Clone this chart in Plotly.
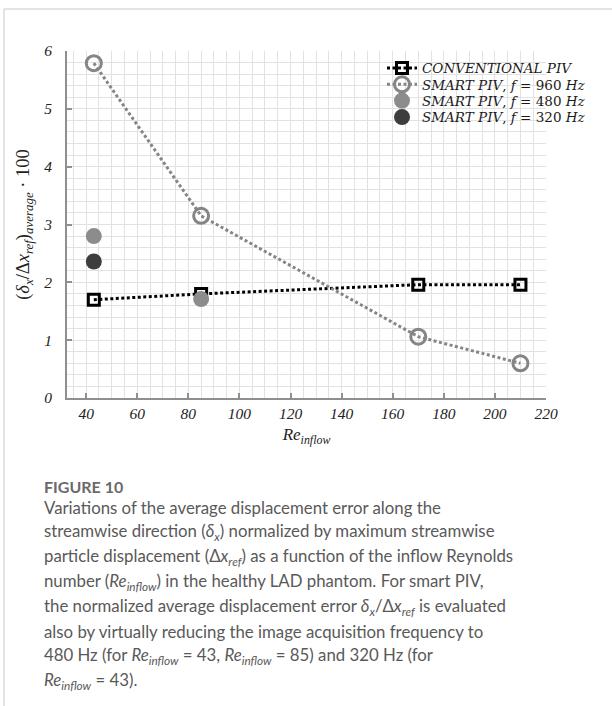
import plotly.graph_objects as go

# Inflow Reynolds numbers and normalized average displacement error (x100)
re_inflow = [43, 85, 170, 210]
err_conventional = [1.70, 1.80, 1.96, 1.96]
err_smart_960 = [5.79, 3.15, 1.06, 0.60]
re_480 = [43, 85]
err_smart_480 = [2.80, 1.71]
re_320 = [43]
err_smart_320 = [2.36]

x_ticks = [40, 60, 80, 100, 120, 140, 160, 180, 200, 220]
y_ticks = [0, 1, 2, 3, 4, 5, 6]

caption_title = "FIGURE 10"
caption_lines = [
    "Variations of the average displacement error along the",
    "streamwise direction (<i>δ<sub>x</sub></i>) normalized by maximum streamwise",
    "particle displacement (Δ<i>x<sub>ref</sub></i>) as a function of the inflow Reynolds",
    "number (<i>Re<sub>inflow</sub></i>) in the healthy LAD phantom. For smart PIV,",
    "the normalized average displacement error <i>δ<sub>x</sub></i>/Δ<i>x<sub>ref</sub></i> is evaluated",
    "also by virtually reducing the image acquisition frequency to",
    "480 Hz (for <i>Re<sub>inflow</sub></i> = 43, <i>Re<sub>inflow</sub></i> = 85) and 320 Hz (for",
    "<i>Re<sub>inflow</sub></i> = 43).",
]

W, H = 612, 706
L, R, T, B = 67, 66, 51, 308
PW, PH = W - L - R, H - T - B


def px(x):
    return (x - L) / PW


def py(y):
    return (H - B - y) / PH


SERIF = "Liberation Serif"
LEG_FONT = dict(family="DejaVu Serif", size=13.5, color="#1a1a1a")
DOTS = "3px,2.5px"

fig = go.Figure()
fig.add_trace(go.Scatter(
    x=re_inflow, y=err_conventional, mode="lines+markers",
    name="<i>CONVENTIONAL PIV</i>", legend="legend",
    line=dict(color="black", width=3, dash=DOTS),
    marker=dict(symbol="square-open", size=11, color="black", line=dict(width=3)),
))
fig.add_trace(go.Scatter(
    x=re_inflow, y=err_smart_960, mode="lines+markers",
    name="<i>SMART PIV</i>, <i>f</i> = 960 <i>Hz</i>", legend="legend2",
    line=dict(color="#858585", width=3, dash=DOTS),
    marker=dict(symbol="circle-open", size=15, color="#858585", line=dict(width=3)),
))
fig.add_trace(go.Scatter(
    x=re_480, y=err_smart_480, mode="markers",
    name="<i>SMART PIV</i>, <i>f</i> = 480 <i>Hz</i>", legend="legend3",
    marker=dict(symbol="circle", size=16, color="#8c8c8c"),
))
fig.add_trace(go.Scatter(
    x=re_320, y=err_smart_320, mode="markers",
    name="<i>SMART PIV</i>, <i>f</i> = 320 <i>Hz</i>", legend="legend4",
    marker=dict(symbol="circle", size=16, color="#3d3d3d"),
))

grid = "#e2e2e2"
axis_col = "#8f8f8f"
tick_font = dict(family=SERIF, size=15.5, color="#222")
fig.update_xaxes(
    range=[32.5, 220], tickvals=x_ticks, ticktext=[f"<i>{v}</i>" for v in x_ticks],
    ticks="inside", ticklen=5,
    tickcolor=axis_col, tickwidth=1.5, showline=True, linecolor=axis_col, linewidth=2,
    showgrid=True, gridcolor=grid, gridwidth=1, zeroline=False,
    minor=dict(tick0=0, dtick=5, showgrid=True, gridcolor=grid, gridwidth=1),
    tickfont=tick_font,
    title=dict(text="<i>Re<sub>inflow</sub></i>", font=dict(family=SERIF, size=17, color="#222"), standoff=8),
)
fig.update_yaxes(
    range=[0, 6], tickvals=y_ticks, ticktext=[f"<i>{v}</i>" for v in y_ticks],
    ticks="inside", ticklen=5,
    tickcolor=axis_col, tickwidth=1.5, showline=True, linecolor=axis_col, linewidth=2,
    showgrid=True, gridcolor=grid, gridwidth=1, zeroline=False,
    minor=dict(tick0=0, dtick=0.2, showgrid=True, gridcolor=grid, gridwidth=1),
    tickfont=tick_font,
    ticklabelstandoff=10,
    title=dict(text="(<i>δ<sub>x</sub></i>/Δ<i>x<sub>ref</sub></i>)<sub><i>average</i></sub> · 100",
               font=dict(family=SERIF, size=18.5, color="#222"), standoff=9),
)

annotations = [dict(
    text="<b>" + caption_title + "</b>", x=px(42), y=py(486), xref="paper", yref="paper",
    xanchor="left", yanchor="middle", showarrow=False,
    font=dict(family="Lato", size=16, color="#6a6a6a"),
)]
for i, line in enumerate(caption_lines):
    annotations.append(dict(
        text=line, x=px(42), y=py(507 + i * 24.9), xref="paper", yref="paper",
        xanchor="left", yanchor="middle", showarrow=False,
        font=dict(family="Lato", size=16.8, color="#595959"),
    ))

frame = "#c9c9c9"
shapes = [
    dict(type="line", xref="paper", yref="paper", x0=px(4), x1=px(W + 5), y0=py(9), y1=py(9),
         line=dict(color=frame, width=1)),
    dict(type="line", xref="paper", yref="paper", x0=px(4), x1=px(4), y0=py(9), y1=py(H + 5),
         line=dict(color=frame, width=1)),
]


def legend_box(y_px):
    return dict(
        x=px(382), y=py(y_px), xanchor="left", yanchor="middle",
        bgcolor="rgba(0,0,0,0)", borderwidth=0, font=LEG_FONT,
        itemwidth=30,
    )


fig.update_layout(
    width=W, height=H, margin=dict(l=L, r=R, t=T, b=B),
    paper_bgcolor="white", plot_bgcolor="white",
    showlegend=True,
    legend=legend_box(68.3),
    legend2=legend_box(84.5),
    legend3=legend_box(100.8),
    legend4=legend_box(117.3),
    annotations=annotations, shapes=shapes,
)

fig.write_html("out.html")
